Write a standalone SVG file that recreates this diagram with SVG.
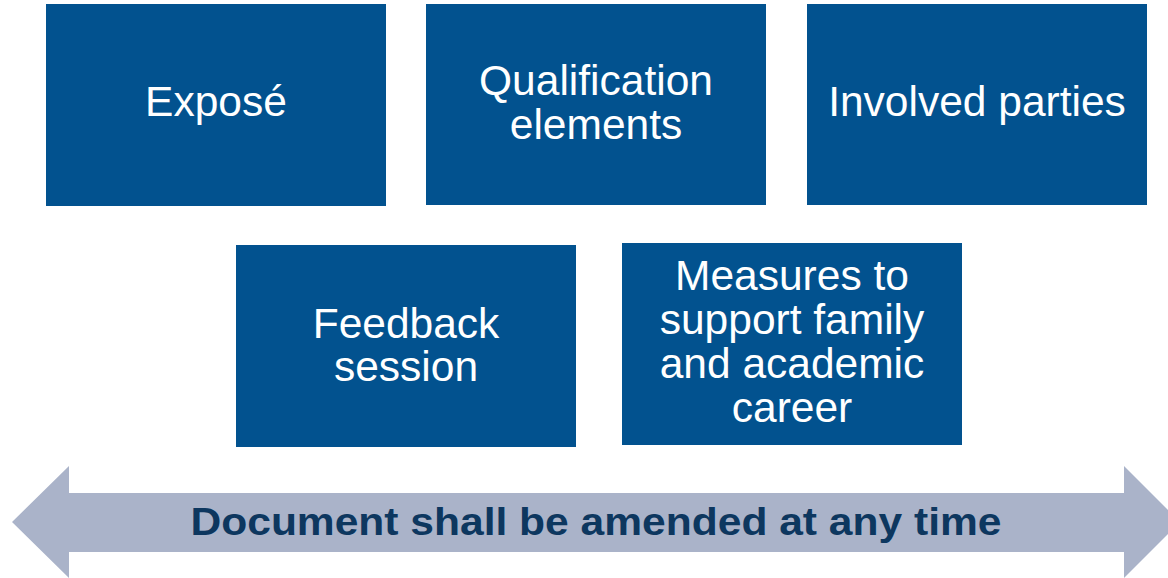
<svg xmlns="http://www.w3.org/2000/svg" width="1168" height="578" viewBox="0 0 1168 578">
<style>
.box{fill:#02528F}
.lbl{font-family:"Liberation Sans",Arial,sans-serif;font-size:42.5px;fill:#FFFFFF;text-anchor:middle}
.ban{font-family:"Liberation Sans",Arial,sans-serif;font-size:38px;font-weight:bold;fill:#0D375F;text-anchor:middle}
</style>
<rect width="1168" height="578" fill="#FFFFFF"/>
<g id="connectors">
<path id="timeline" d="M12,522 L69,466 L69,493 L1124,493 L1124,466 L1180,522 L1124,578 L1124,552 L69,552 L69,578 Z" fill="#AAB3C9"/>
<text class="ban" x="596" y="535" textLength="811" lengthAdjust="spacingAndGlyphs">Document shall be amended at any time</text>
</g>
<g id="expose"><rect class="box" x="46" y="4" width="340" height="202"/><text class="lbl" x="216" y="116">Exposé</text></g>
<g id="qualification"><rect class="box" x="426" y="4" width="340" height="201"/><text class="lbl" x="596" y="95">Qualification</text><text class="lbl" x="596" y="139">elements</text></g>
<g id="parties"><rect class="box" x="807" y="4" width="340" height="201"/><text class="lbl" x="977" y="116">Involved parties</text></g>
<g id="feedback"><rect class="box" x="236" y="245" width="340" height="202"/><text class="lbl" x="406" y="338">Feedback</text><text class="lbl" x="406" y="381">session</text></g>
<g id="measures"><rect class="box" x="622" y="243" width="340" height="202"/><text class="lbl" x="792" y="290">Measures to</text><text class="lbl" x="792" y="334">support family</text><text class="lbl" x="792" y="378">and academic</text><text class="lbl" x="792" y="422">career</text></g>
</svg>
